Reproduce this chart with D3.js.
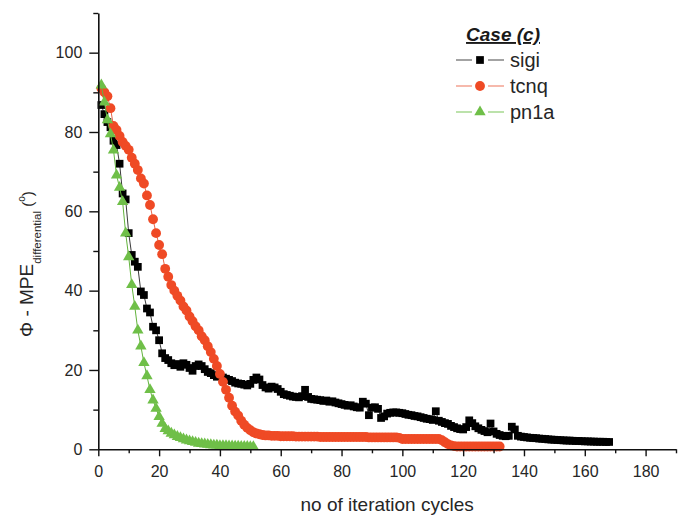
<!DOCTYPE html>
<html>
<head>
<meta charset="utf-8">
<script src="https://cdn.jsdelivr.net/npm/d3@7"></script>
<style>
  html, body { margin: 0; padding: 0; background: #fff; }
  svg { display: block; font-family: "Liberation Sans", Arial, sans-serif; }
</style>
</head>
<body>
<svg id="chart" width="680" height="515"></svg>
<script>
// Phase error (Φ - MPE differential, degrees) per iteration cycle, one value per cycle from cycle 1.
const seriesNames = ["sigi", "tcnq", "pn1a"];

const sigi = [
  86.8, 84.5, 82.5, 81.2, 77.8, 76.7, 72, 64.5, 63, 54.5,
  49, 47.3, 46, 39.8, 38.9, 35.5, 34.5, 30.9, 30, 27.5,
  24.2, 23, 22.5, 21.7, 21.2, 21.5, 20.8, 21.7, 21.3, 20.5,
  19.8, 21, 21.4, 21, 20.2, 19.5, 19.2, 18.7, 18.3, 18.5,
  18.1, 17.8, 17.5, 17.2, 16.8, 16.6, 16.5, 16.3, 16.1, 16.5,
  17.5, 18.1, 17.6, 16.2, 15.6, 15.3, 15.8, 15.6, 15.2, 14.5,
  13.9, 13.7, 13.5, 13.3, 13.2, 13.1, 13.4, 15.0, 13.2, 12.7,
  12.6, 12.5, 12.4, 12.2, 12.3, 12.0, 12.1, 11.8, 11.6, 11.4,
  11.2, 11.0, 11.1, 10.8, 10.6, 10.5, 12.0, 11.5, 8.6, 10.5,
  10.6, 10.2, 7.9, 8.3, 9.0, 9.2, 9.3, 9.3, 9.2, 9.1,
  8.9, 8.7, 8.6, 8.4, 8.3, 8.1, 7.9, 7.7, 7.6, 7.4,
  9.6, 7.2, 6.9, 6.6, 6.4, 5.9, 5.6, 5.3, 5.1, 5.0,
  5.6, 7.3, 6.6, 5.8, 5.3, 4.9, 4.6, 4.3, 6.5, 4.5,
  3.9, 3.6, 3.4, 3.3, 3.4, 5.7, 5.0, 3.4, 3.2, 3.1,
  3.0, 2.9, 2.85, 2.8, 2.7, 2.65, 2.6, 2.5, 2.45, 2.4,
  2.35, 2.3, 2.25, 2.2, 2.2, 2.15, 2.1, 2.1, 2.05, 2.0,
  2.0, 1.95, 1.95, 1.9, 1.9, 1.9, 1.85, 1.85
];

const tcnq = [
  91, 90, 89, 86, 81.5, 80.5, 79, 77.5, 76.5, 75.5,
  73.5, 72, 70.4, 68.3, 67, 64, 61.6, 58, 54.5, 51.5,
  49.2, 45.5, 43.5, 41.4, 40, 38.7, 37.5, 36, 35, 33.5,
  32.3, 31, 30, 28.5, 27.5, 26, 24.5, 22.8, 21, 19,
  17, 15, 13, 11, 9.5, 8.5, 7.2, 6.2, 5.4, 4.8,
  4.3, 4.0, 3.8, 3.6, 3.5, 3.5, 3.4, 3.4, 3.4, 3.3,
  3.3, 3.3, 3.3, 3.3, 3.2, 3.2, 3.2, 3.2, 3.2, 3.2,
  3.2, 3.2, 3.1, 3.1, 3.1, 3.1, 3.1, 3.1, 3.1, 3.1,
  3.1, 3.1, 3.1, 3.1, 3.1, 3.1, 3.1, 3.1, 3.0, 3.0,
  3.0, 3.0, 3.0, 3.0, 3.0, 3.0, 3.0, 3.0, 2.9, 2.6,
  2.6, 2.6, 2.6, 2.6, 2.6, 2.6, 2.6, 2.6, 2.6, 2.6,
  2.6, 2.6, 2.3, 1.8, 1.3, 1.0, 0.8, 0.7, 0.7, 0.7,
  0.7, 0.7, 0.7, 0.7, 0.7, 0.7, 0.7, 0.7, 0.7, 0.7,
  0.7, 0.7
];

const pn1a = [
  91.8, 87.5, 83, 79.5, 75.4, 69.1, 66, 62.4, 54.5, 48.5,
  41.5, 36, 30, 26, 21.8, 18.5, 15, 12.4, 10.3, 8.2,
  6.5, 5.2, 4.6, 4.0, 3.6, 3.2, 2.9, 2.6, 2.3, 2.1,
  1.9, 1.7, 1.5, 1.4, 1.3, 1.2, 1.1, 1.0, 1.0, 0.9,
  0.9, 0.85, 0.8, 0.8, 0.75, 0.75, 0.7, 0.7, 0.7, 0.65, 0.65
];

// Axis ticks
const xMajorTicks = [0, 20, 40, 60, 80, 100, 120, 140, 160, 180];
const xMinorTicks = [10, 30, 50, 70, 90, 110, 130, 150, 170, 190];
const yMajorTicks = [0, 20, 40, 60, 80, 100];
const yMinorTicks = [10, 30, 50, 70, 90, 110];

const xTitle = "no of iteration cycles";
const legendTitle = "Case (c)";

const styles = {
  sigi: { marker: "#000000", line: "#3a3a3a", legendLine: "#666666", symbol: d3.symbolSquare, size: 60 },
  tcnq: { marker: "#ef4a25", line: "#e8674a", legendLine: "#f08a75", symbol: d3.symbolCircle, size: 76 },
  pn1a: { marker: "#6fbf48", line: "#62b33c", legendLine: "#8fcf73", symbol: d3.symbolTriangle, size: 56 }
};

const dataBySeries = { sigi, tcnq, pn1a };

const svg = d3.select("#chart");

const x = d3.scaleLinear().domain([0, 190]).range([98.3, 676]);
const y = d3.scaleLinear().domain([0, 110]).range([449.3, 13]);

// Data: lines first, then markers, series drawn in legend order
seriesNames.forEach(name => {
  const vals = dataBySeries[name];
  const pts = vals.map((v, i) => [i + 1, v]);
  const st = styles[name];
  const g = svg.append("g").attr("class", "series-" + name);
  g.append("path")
    .datum(pts)
    .attr("fill", "none")
    .attr("stroke", st.line)
    .attr("stroke-width", 1)
    .attr("d", d3.line().x(d => x(d[0])).y(d => y(d[1])));
  g.selectAll("path.pt")
    .data(pts)
    .join("path")
    .attr("class", "pt")
    .attr("transform", d => `translate(${x(d[0])},${y(d[1])})`)
    .attr("d", d3.symbol().type(st.symbol).size(st.size))
    .attr("fill", st.marker);
});

// Axes
const axisColor = "#111";
const labelColor = "#262626";

const gx = svg.append("g").attr("transform", `translate(0,${y(0)})`);
gx.call(d3.axisBottom(x).tickValues(xMajorTicks).tickSize(7).tickSizeOuter(0).tickPadding(9).tickFormat(d3.format("d")));
gx.append("g").call(d3.axisBottom(x).tickValues(xMinorTicks).tickSize(4).tickSizeOuter(0).tickFormat(""))
  .select(".domain").remove();

const gy = svg.append("g").attr("transform", `translate(${x(0)},0)`);
gy.call(d3.axisLeft(y).tickValues(yMajorTicks).tickSize(9).tickSizeOuter(0).tickPadding(7).tickFormat(d3.format("d")));
gy.append("g").call(d3.axisLeft(y).tickValues(yMinorTicks).tickSize(5).tickSizeOuter(0).tickFormat(""))
  .select(".domain").remove();

[gx, gy].forEach(g => {
  g.selectAll(".domain").attr("stroke", axisColor).attr("stroke-width", 1.6);
  g.selectAll(".tick line").attr("stroke", axisColor).attr("stroke-width", 1.4);
  g.selectAll(".tick text").attr("fill", labelColor).attr("font-size", 16)
    .attr("font-family", "'Liberation Sans', Arial, sans-serif");
});

// Axis titles
svg.append("text")
  .attr("x", (x.range()[0] + x.range()[1]) / 2)
  .attr("y", 511)
  .attr("text-anchor", "middle")
  .attr("font-size", 19)
  .attr("fill", labelColor)
  .text(xTitle);

const yt = svg.append("text")
  .attr("transform", "rotate(-90)")
  .attr("x", -337)
  .attr("y", 33)
  .attr("fill", labelColor)
  .attr("font-size", 19);
yt.append("tspan").text("\u03A6 - MPE");
yt.append("tspan").attr("font-size", 11.5).attr("dy", 8).text("differential");
yt.append("tspan").attr("font-size", 15).attr("dy", -8).text(" (");
yt.append("tspan").attr("font-size", 10).attr("dy", -8).text("o");
yt.append("tspan").attr("font-size", 15).attr("dy", 8).text(")");

// Legend
const legend = svg.append("g");
legend.append("text")
  .attr("x", 503)
  .attr("y", 41)
  .attr("text-anchor", "middle")
  .attr("font-size", 19)
  .attr("font-weight", "bold")
  .attr("font-style", "italic")
  .attr("text-decoration", "underline")
  .attr("fill", "#1a1a1a")
  .text(legendTitle);

seriesNames.forEach((name, i) => {
  const st = styles[name];
  const cy = 60 + i * 26;
  const row = legend.append("g");
  row.append("line").attr("x1", 456).attr("x2", 472).attr("y1", cy).attr("y2", cy)
    .attr("stroke", st.legendLine).attr("stroke-width", 1.2);
  row.append("line").attr("x1", 488).attr("x2", 504).attr("y1", cy).attr("y2", cy)
    .attr("stroke", st.legendLine).attr("stroke-width", 1.2);
  row.append("path")
    .attr("transform", `translate(480,${cy})`)
    .attr("d", d3.symbol().type(st.symbol).size(st.size))
    .attr("fill", st.marker);
  row.append("text")
    .attr("x", 510)
    .attr("y", cy + 6.5)
    .attr("font-size", 20)
    .attr("fill", labelColor)
    .text(name);
});
</script>
</body>
</html>
